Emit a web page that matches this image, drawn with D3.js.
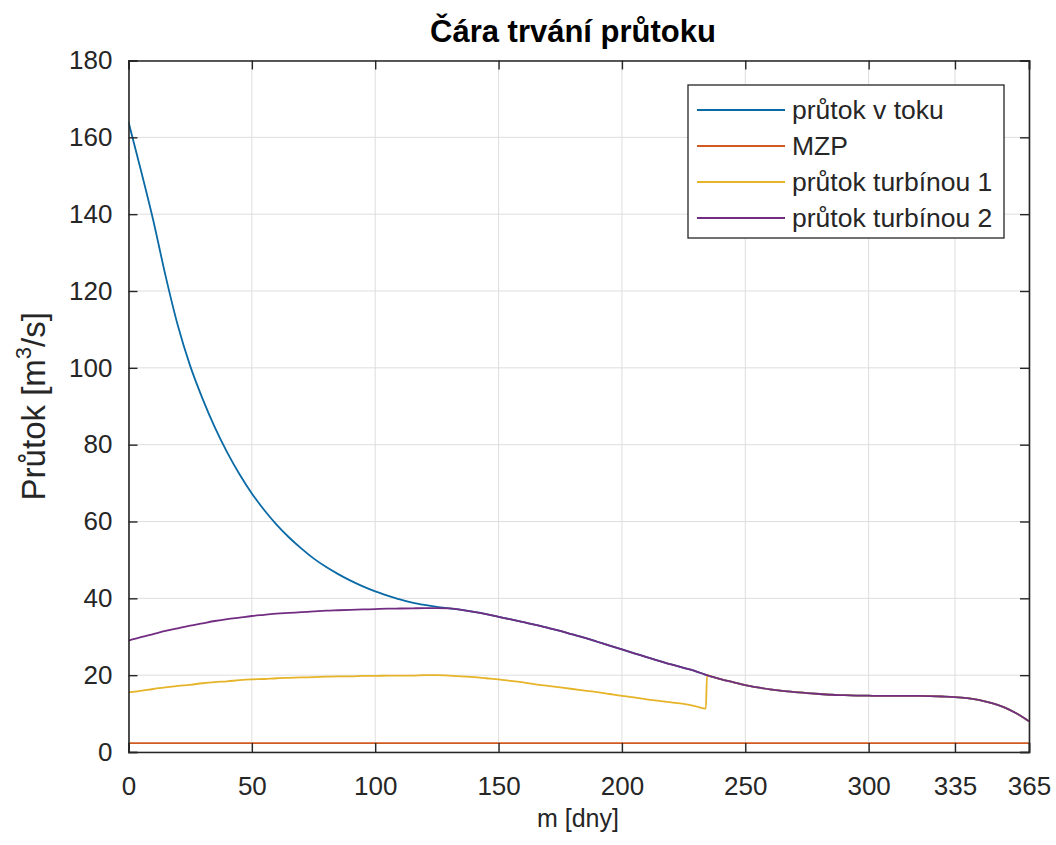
<!DOCTYPE html>
<html>
<head>
<meta charset="utf-8">
<script src="https://cdn.jsdelivr.net/npm/d3@7"></script>
<style>
  html, body { margin: 0; padding: 0; background: #fff; }
  svg { display: block; font-family: "Liberation Sans", Arial, Helvetica, sans-serif; }
</style>
</head>
<body>
<svg id="chart" width="1056" height="845"></svg>
<script>
// Day of the year (duration) at which each flow is sampled
const days = [0, 5, 10, 15, 20, 25, 30, 35, 40, 45, 50, 55, 60, 65, 70, 75, 80, 85, 90, 95,
  100, 105, 110, 115, 120, 125, 130, 135, 140, 145, 150, 155, 160, 165, 170, 175, 180, 185,
  190, 195, 200, 205, 210, 215, 220, 225, 230, 234, 234.5, 235, 240, 245, 250, 255, 260, 265,
  270, 275, 280, 285, 290, 295, 300, 305, 310, 315, 320, 325, 330, 335, 340, 345, 350, 355,
  360, 365];

// Flow in the river [m3/s]
const riverFlow = [164, 151.5, 138.5, 124, 111, 100.5, 92, 84.5, 78, 72.3, 67.3, 63, 59.2, 55.9,
  53, 50.4, 48.2, 46.3, 44.6, 43.1, 41.8, 40.7, 39.7, 38.9, 38.3, 37.8, 37.4, 37.0, 36.5,
  35.9, 35.2, 34.5, 33.8, 33.1, 32.3, 31.5, 30.6, 29.7, 28.7, 27.7, 26.7, 25.7, 24.7, 23.7,
  22.8, 21.9, 21.0, 20.1, 20.0, 19.9, 19.0, 18.2, 17.4, 16.8, 16.3, 15.9, 15.6, 15.35, 15.1,
  14.9, 14.8, 14.7, 14.65, 14.6, 14.6, 14.6, 14.6, 14.55, 14.45, 14.3, 14.0, 13.5, 12.7, 11.6,
  10.0, 8.0];

// Minimum residual flow (MZP) [m3/s]
const mzpDays = [0, 365];
const mzpFlow = [2.3, 2.3];

// Flow through turbine 1 [m3/s]
const turbine1Flow = [15.5, 15.9, 16.4, 16.8, 17.2, 17.5, 17.9, 18.2, 18.4, 18.7, 18.9, 19.0,
  19.2, 19.3, 19.4, 19.5, 19.6, 19.7, 19.7, 19.8, 19.8, 19.9, 19.9, 19.9, 20.0, 20.0, 19.9,
  19.7, 19.5, 19.2, 18.9, 18.5, 18.1, 17.6, 17.2, 16.8, 16.4, 16.0, 15.6, 15.1, 14.6, 14.2,
  13.7, 13.3, 12.9, 12.5, 11.9, 11.3, 20.0, 19.9, 19.0, 18.2, 17.4, 16.8, 16.3, 15.9, 15.6,
  15.35, 15.1, 14.9, 14.8, 14.7, 14.65, 14.6, 14.6, 14.6, 14.6, 14.55, 14.45, 14.3, 14.0, 13.5,
  12.7, 11.6, 10.0, 8.0];

// Flow through turbine 2 [m3/s]
const turbine2Flow = [29.0, 29.9, 30.7, 31.5, 32.2, 32.9, 33.5, 34.1, 34.6, 35.0, 35.4, 35.7,
  36.0, 36.2, 36.4, 36.6, 36.8, 36.9, 37.0, 37.1, 37.2, 37.3, 37.35, 37.4, 37.45, 37.45, 37.4,
  37.0, 36.5, 35.9, 35.2, 34.5, 33.8, 33.1, 32.3, 31.5, 30.6, 29.7, 28.7, 27.7, 26.7, 25.7,
  24.7, 23.7, 22.8, 21.9, 21.0, 20.1, 20.0, 19.9, 19.0, 18.2, 17.4, 16.8, 16.3, 15.9, 15.6,
  15.35, 15.1, 14.9, 14.8, 14.7, 14.65, 14.6, 14.6, 14.6, 14.6, 14.55, 14.45, 14.3, 14.0, 13.5,
  12.7, 11.6, 10.0, 8.0];

const xTicks = [0, 50, 100, 150, 200, 250, 300, 335, 365];
const yTicks = [0, 20, 40, 60, 80, 100, 120, 140, 160, 180];

const seriesNames = ["průtok v toku", "MZP", "průtok turbínou 1", "průtok turbínou 2"];
const seriesColors = ["#0a6aa6", "#d05a22", "#e6b428", "#722d82"];

const titleText = "Čára trvání průtoku";
const xLabel = "m [dny]";

// ---- layout ----
const svg = d3.select("#chart");
const plot = { left: 128.5, right: 1029, top: 60.5, bottom: 752 };
const axisColor = "#262626";

const x = d3.scaleLinear().domain([0, 365]).range([plot.left, plot.right]);
const y = d3.scaleLinear().domain([0, 180]).range([plot.bottom, plot.top]);

// grid
const grid = svg.append("g");
grid.selectAll("line.gx").data(xTicks).join("line")
  .attr("x1", d => x(d)).attr("x2", d => x(d))
  .attr("y1", plot.top).attr("y2", plot.bottom)
  .attr("stroke", "#dedede").attr("stroke-width", 1);
grid.selectAll("line.gy").data(yTicks).join("line")
  .attr("x1", plot.left).attr("x2", plot.right)
  .attr("y1", d => y(d)).attr("y2", d => y(d))
  .attr("stroke", "#dedede").attr("stroke-width", 1);

// series
const line = d3.line().x(d => x(d[0])).y(d => y(d[1])).curve(d3.curveMonotoneX);
const zip = (xs, ys) => xs.map((v, i) => [v, ys[i]]);
const seriesData = [
  zip(days, riverFlow),
  zip(mzpDays, mzpFlow),
  zip(days, turbine1Flow),
  zip(days, turbine2Flow)
];
svg.append("clipPath").attr("id", "clip").append("rect")
  .attr("x", plot.left).attr("y", plot.top)
  .attr("width", plot.right - plot.left).attr("height", plot.bottom - plot.top);
const lines = svg.append("g").attr("clip-path", "url(#clip)");
seriesData.forEach((data, i) => {
  lines.append("path").datum(data)
    .attr("d", line)
    .attr("fill", "none")
    .attr("stroke", seriesColors[i])
    .attr("stroke-width", 1.8)
    .attr("stroke-linejoin", "round");
});

// axes (ticks pointing inward, box on all sides)
const tickLen = 9;
const fontSize = 26;
const bottomAxis = d3.axisBottom(x).tickValues(xTicks).tickSize(-tickLen).tickPadding(25).tickFormat(d3.format("d"));
const topAxis = d3.axisTop(x).tickValues(xTicks).tickSize(-tickLen).tickFormat("");
const leftAxis = d3.axisLeft(y).tickValues(yTicks).tickSize(-tickLen).tickPadding(16).tickFormat(d3.format("d"));
const rightAxis = d3.axisRight(y).tickValues(yTicks).tickSize(-tickLen).tickFormat("");

function styleAxis(g) {
  g.select(".domain").attr("stroke", axisColor).attr("stroke-width", 1.6).attr("fill", "none");
  g.selectAll(".tick line").attr("stroke", axisColor).attr("stroke-width", 1.4);
  g.selectAll(".tick text").attr("fill", axisColor).attr("font-size", fontSize)
    .attr("font-family", "'Liberation Sans', Arial, sans-serif");
}
svg.append("g").attr("transform", `translate(0,${plot.bottom})`).call(bottomAxis).call(styleAxis);
svg.append("g").attr("transform", `translate(0,${plot.top})`).call(topAxis).call(styleAxis);
svg.append("g").attr("transform", `translate(${plot.left},0)`).call(leftAxis).call(styleAxis);
svg.append("g").attr("transform", `translate(${plot.right},0)`).call(rightAxis).call(styleAxis);

// title and labels
svg.append("text")
  .attr("x", 573).attr("y", 42)
  .attr("text-anchor", "middle").attr("font-size", 31).attr("font-weight", "bold")
  .attr("fill", "#000").text(titleText);

svg.append("text")
  .attr("x", 578).attr("y", 827)
  .attr("text-anchor", "middle").attr("font-size", 25)
  .attr("fill", axisColor).text(xLabel);

const yl = svg.append("text")
  .attr("transform", `translate(45,${(plot.top + plot.bottom) / 2}) rotate(-90)`)
  .attr("text-anchor", "middle").attr("font-size", 33).attr("fill", axisColor);
yl.append("tspan").text("Průtok [m");
yl.append("tspan").attr("font-size", 22).attr("dy", -14).text("3");
yl.append("tspan").attr("dy", 14).text("/s]");

// legend
const legend = svg.append("g");
const lg = { x: 688, y: 85, w: 316, h: 153 };
legend.append("rect").attr("x", lg.x).attr("y", lg.y).attr("width", lg.w).attr("height", lg.h)
  .attr("fill", "#fff").attr("stroke", axisColor).attr("stroke-width", 1.3);
const rows = seriesNames.map((n, i) => ({ name: n, color: seriesColors[i], i }));
const rowY = d3.scaleLinear().domain([0, 3]).range([lg.y + 25, lg.y + 133]);
const item = legend.selectAll("g.item").data(rows).join("g");
item.append("line")
  .attr("x1", lg.x + 9).attr("x2", lg.x + 97)
  .attr("y1", d => rowY(d.i)).attr("y2", d => rowY(d.i))
  .attr("stroke", d => d.color).attr("stroke-width", 1.8);
item.append("text")
  .attr("x", lg.x + 104).attr("y", d => rowY(d.i)).attr("dy", "0.35em")
  .attr("font-size", 26.5).attr("fill", axisColor).text(d => d.name);
</script>
</body>
</html>
